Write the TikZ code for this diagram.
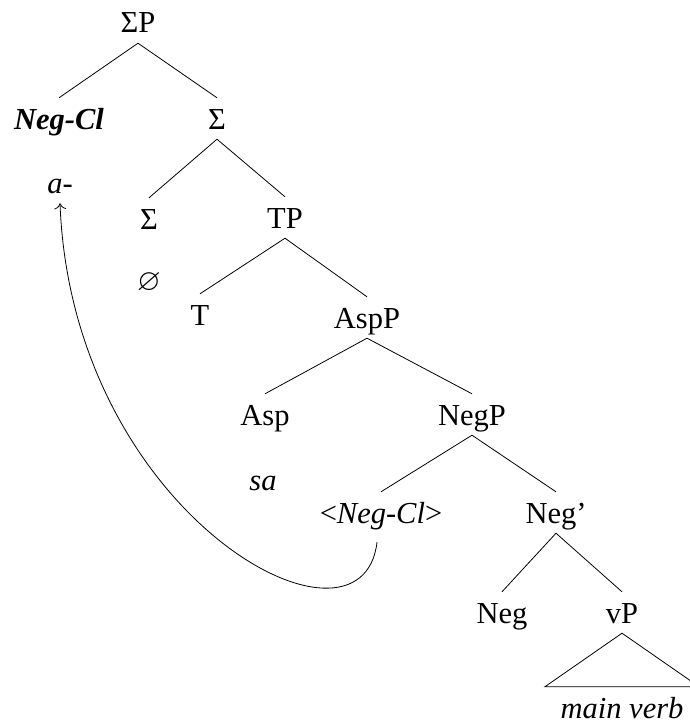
\documentclass[tikz,border=0pt]{standalone}
\usepackage{amssymb}
\usepackage{fontspec}
\setmainfont{Liberation Serif}
\usetikzlibrary{arrows.meta}

\begin{document}
\begin{tikzpicture}[
  x=1pt,y=-1pt,
  every node/.style={font=\fontsize{30.5}{36}\selectfont,anchor=base,
                     inner xsep=0pt,inner ysep=3pt,text height=28pt,text depth=7pt},
  branch/.style={line width=0.8pt},
  movement/.style={line width=0.8pt,-{To[length=6pt,width=12pt]}},
]
  \useasboundingbox (0,0) rectangle (689,725);

  % Sigma level
  \node (sp) at (138,33) {ΣP};
  \node (negcl) at (59,129) {\textbf{\textit{Neg-Cl}}};
  \node (sigbar) at (217,129) {Σ};
  \node (acl) at (60,193) {\textit{a-}};
  \node (sig) at (149,229) {Σ};
  \node (nullsig) at (149,290) {$\varnothing$};

  % TP and AspP
  \node (tp) at (285,228) {TP};
  \node (t) at (200,325) {T};
  \node (aspp) at (367,328) {AspP};
  \node (asp) at (265,425) {Asp};
  \node (sa) at (263,490) {\textit{sa}};

  % NegP
  \node (negp) at (472,425) {NegP};
  \node (negtr) at (381,523) {<\textit{Neg-Cl}>};
  \node (negbar) at (556,523) {Neg'};
  \node (neg) at (502,623) {Neg};
  \node (vp) at (622,623) {vP};
  \node[minimum width=154pt] (mainverb) at (622,718) {\textit{main verb}};

  % branches
  \draw[branch] (sp.south) -- (negcl.north);
  \draw[branch] (sp.south) -- (sigbar.north);
  \draw[branch] (sigbar.south) -- (sig.north);
  \draw[branch] (sigbar.south) -- (tp.north);
  \draw[branch] (tp.south) -- (t.north);
  \draw[branch] (tp.south) -- (aspp.north);
  \draw[branch] (aspp.south) -- (asp.north);
  \draw[branch] (aspp.south) -- (negp.north);
  \draw[branch] (negp.south) -- (negtr.north);
  \draw[branch] (negp.south) -- (negbar.north);
  \draw[branch] (negbar.south) -- (neg.north);
  \draw[branch] (negbar.south) -- (vp.north);
  \draw[branch] (vp.south) -- (mainverb.north west) -- (mainverb.north east) -- cycle;

  % clitic movement
  \draw[movement] ([xshift=-4pt,yshift=-9pt]negtr.south)
    .. controls +(-15,130) and +(12,313) .. (acl.south);
\end{tikzpicture}
\end{document}
